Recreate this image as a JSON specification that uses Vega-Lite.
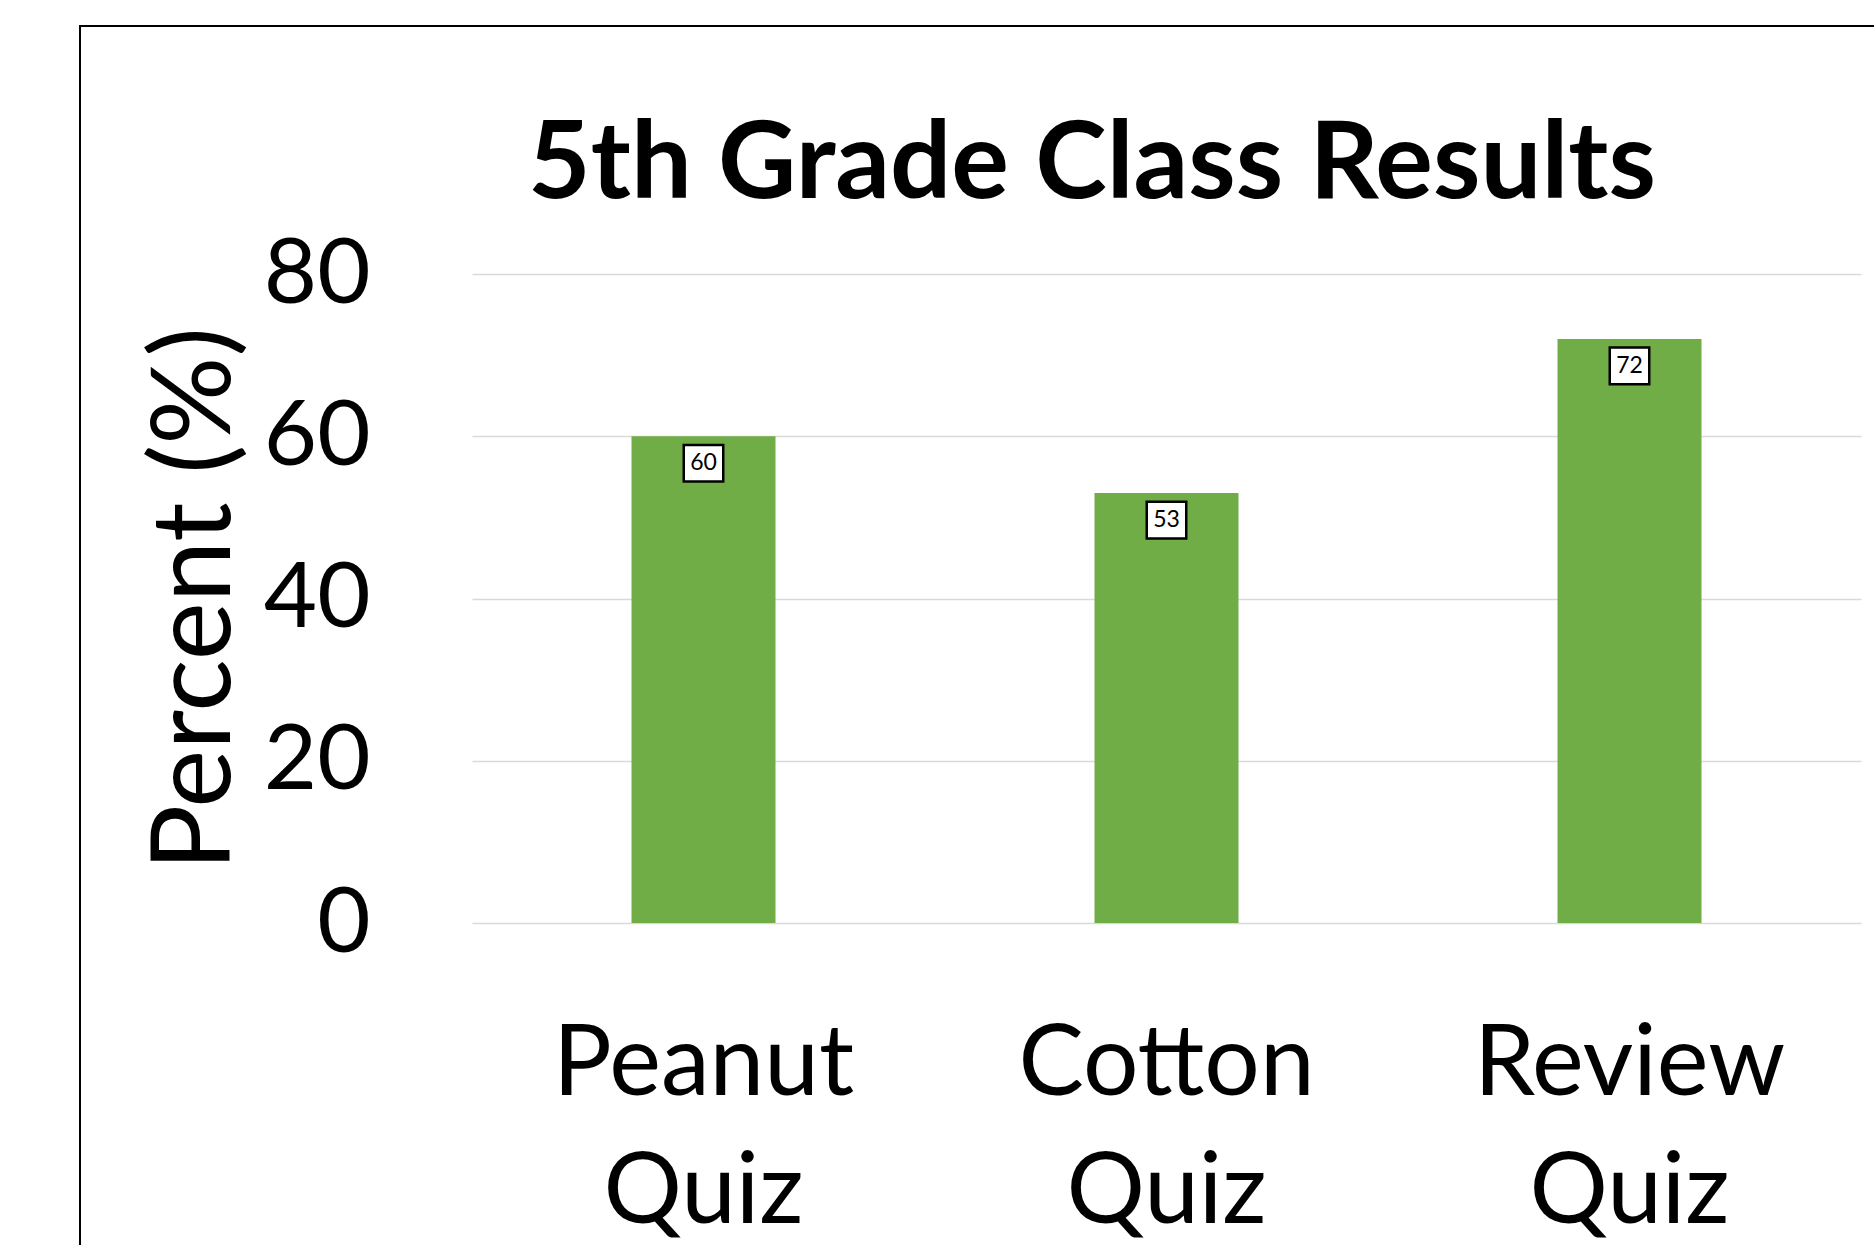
{
  "$schema": "https://vega.github.io/schema/vega-lite/v6.json",
  "width": 1804,
  "height": 1229,
  "autosize": {"type": "none"},
  "padding": {"left": 80, "top": 26, "right": -10, "bottom": -10},
  "background": "white",
  "title": {
    "text": "5th Grade Class Results",
    "font": "Lato",
    "fontSize": 108,
    "fontWeight": "bold",
    "color": "black",
    "anchor": "middle",
    "frame": "group",
    "offset": 0,
    "baseline": "alphabetic",
    "dx": 110,
    "dy": 280
  },
  "data": {
    "values": [
      {"quiz": "Peanut Quiz", "percent": 60},
      {"quiz": "Cotton Quiz", "percent": 53},
      {"quiz": "Review Quiz", "percent": 72}
    ]
  },
  "layer": [
    {
      "mark": {"type": "bar", "color": "#70AD47"},
      "encoding": {
        "x": {
          "field": "quiz",
          "type": "nominal",
          "sort": null,
          "scale": {"range": [392, 1781], "paddingInner": 0.689, "paddingOuter": 0.3445},
          "axis": {
            "orient": "bottom",
            "offset": -332,
            "domain": false,
            "ticks": false,
            "grid": false,
            "labelFont": "Lato",
            "labelFontSize": 98,
            "labelColor": "black",
            "labelAngle": 0,
            "labelPadding": 171,
            "labelBaseline": "alphabetic",
            "labelLineHeight": 128,
            "labelLimit": 0,
            "labelExpr": "split(datum.label, ' ')",
            "title": null
          }
        },
        "y": {
          "field": "percent",
          "type": "quantitative",
          "scale": {"domain": [0, 80], "range": [897, 248]},
          "axis": {
            "orient": "left",
            "offset": -392,
            "values": [0, 20, 40, 60, 80],
            "domain": false,
            "ticks": false,
            "grid": false,
            "labelFont": "Lato",
            "labelFontSize": 92,
            "labelColor": "black",
            "labelPadding": 102,
            "title": "Percent (%)",
            "titleFont": "Lato",
            "titleFontSize": 110,
            "titleFontWeight": "normal",
            "titleColor": "black",
            "titlePadding": 20
          }
        }
      }
    },
    {
      "mark": {
        "type": "point",
        "shape": "M-1,-0.93L1,-0.93L1,0.93L-1,0.93Z",
        "size": 1560,
        "filled": true,
        "fill": "white",
        "stroke": "black",
        "strokeWidth": 2.5,
        "opacity": 1,
        "yOffset": 27
      },
      "encoding": {
        "x": {"field": "quiz", "type": "nominal", "sort": null},
        "y": {
          "field": "percent",
          "type": "quantitative",
          "axis": {
            "orient": "right",
            "offset": -1412,
            "values": [0, 20, 40, 60, 80],
            "domain": false,
            "labels": false,
            "ticks": true,
            "tickSize": 1389,
            "tickColor": "#d9d9d9",
            "tickWidth": 1.5,
            "grid": false,
            "title": null,
            "zindex": 0
          }
        }
      }
    },
    {
      "mark": {
        "type": "text",
        "font": "Lato",
        "fontSize": 23,
        "color": "black",
        "baseline": "middle",
        "align": "center",
        "yOffset": 27
      },
      "encoding": {
        "x": {"field": "quiz", "type": "nominal", "sort": null},
        "y": {"field": "percent", "type": "quantitative", "axis": null},
        "text": {"field": "percent", "type": "quantitative"}
      }
    }
  ],
  "resolve": {"axis": {"y": "independent"}},
  "config": {"view": {"stroke": "black", "strokeWidth": 2}}
}
